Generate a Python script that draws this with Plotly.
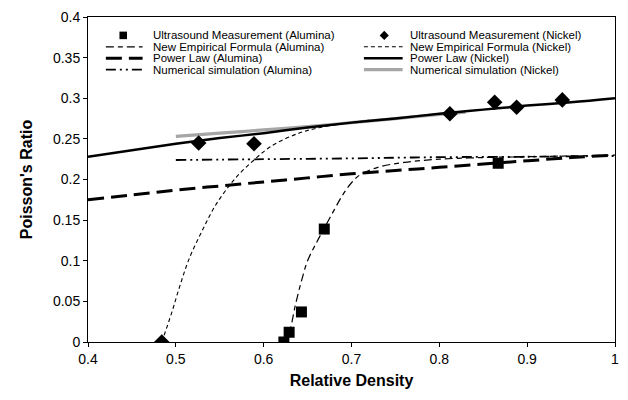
import plotly.graph_objects as go

# Ultrasound measurements
alumina_meas_x = [0.623, 0.629, 0.643, 0.669, 0.867]
alumina_meas_y = [0.0, 0.012, 0.037, 0.139, 0.220]
nickel_meas_x = [0.484, 0.526, 0.589, 0.812, 0.863, 0.888, 0.940]
nickel_meas_y = [0.0, 0.245, 0.244, 0.281, 0.295, 0.289, 0.298]

# New empirical formula curves
emp_alumina_x = [0.624, 0.630, 0.636, 0.643, 0.650, 0.660, 0.669, 0.680, 0.690,
                 0.700, 0.710, 0.730, 0.760, 0.800, 0.850, 0.900, 0.950, 1.000]
emp_alumina_y = [0.0, 0.015, 0.045, 0.075, 0.100, 0.122, 0.140, 0.162, 0.181,
                 0.196, 0.206, 0.215, 0.221, 0.225, 0.227, 0.228, 0.229, 0.230]
emp_nickel_x = [0.484, 0.495, 0.504, 0.515, 0.530, 0.545, 0.562, 0.575, 0.589,
                0.602, 0.615, 0.640, 0.660, 0.680, 0.700, 0.720]
emp_nickel_y = [0.0, 0.035, 0.067, 0.102, 0.137, 0.168, 0.194, 0.210, 0.224,
                0.236, 0.245, 0.257, 0.263, 0.267, 0.270, 0.273]

# Power law curves
pow_x = [0.40, 0.45, 0.50, 0.55, 0.60, 0.65, 0.70, 0.75, 0.80, 0.85, 0.90, 0.95, 1.00]
pow_alumina_y = [0.175, 0.181, 0.187, 0.192, 0.197, 0.202, 0.207, 0.211, 0.215,
                 0.219, 0.223, 0.227, 0.230]
pow_nickel_y = [0.228, 0.236, 0.244, 0.251, 0.257, 0.264, 0.270, 0.275, 0.281,
                0.286, 0.291, 0.295, 0.300]

# Numerical simulation curves
num_alumina_x = [0.50, 0.60, 0.70, 0.80, 0.90, 1.00]
num_alumina_y = [0.224, 0.225, 0.226, 0.2275, 0.228, 0.229]
num_nickel_x = [0.50, 0.55, 0.60, 0.65, 0.70, 0.75, 0.80, 0.83]
num_nickel_y = [0.253, 0.257, 0.261, 0.265, 0.270, 0.275, 0.280, 0.283]

legend_labels = [
    ("Ultrasound Measurement (Alumina)", "Ultrasound Measurement (Nickel)"),
    ("New Empirical Formula (Alumina)", "New Empirical Formula (Nickel)"),
    ("Power Law (Alumina)", "Power Law (Nickel)"),
    ("Numerical simulation (Alumina)", "Numerical simulation (Nickel)"),
]

FONT = "Arial, Liberation Sans, sans-serif"
W, H = 628, 400
ML, MR, MT, MB = 88, 9, 15, 58

# Line styles shared by curves and legend samples
STY = {
    "emp_al": dict(color="black", width=1.2, dash="8px,4px,5px,4px"),
    "emp_ni": dict(color="black", width=1.1, dash="4px,3px"),
    "pow_al": dict(color="black", width=3, dash="16px,7px"),
    "pow_ni": dict(color="black", width=2.5),
    "num_al": dict(color="black", width=1.8, dash="10px,4px,2px,4px,2px,4px"),
    "num_ni": dict(color="#a6a6a6", width=3.2),
}

fig = go.Figure()


def curve(x, y, key, name):
    fig.add_trace(go.Scatter(x=x, y=y, mode="lines", name=name, line=STY[key],
                             line_shape="spline", showlegend=False))


curve(num_nickel_x, num_nickel_y, "num_ni", legend_labels[3][1])
curve(pow_x, pow_alumina_y, "pow_al", legend_labels[2][0])
curve(pow_x, pow_nickel_y, "pow_ni", legend_labels[2][1])
curve(num_alumina_x, num_alumina_y, "num_al", legend_labels[3][0])
curve(emp_alumina_x, emp_alumina_y, "emp_al", legend_labels[1][0])
curve(emp_nickel_x, emp_nickel_y, "emp_ni", legend_labels[1][1])

fig.add_trace(go.Scatter(x=alumina_meas_x, y=alumina_meas_y, mode="markers",
                         name=legend_labels[0][0], showlegend=False,
                         marker=dict(symbol="square", size=11, color="black")))
fig.add_trace(go.Scatter(x=nickel_meas_x, y=nickel_meas_y, mode="markers",
                         name=legend_labels[0][1], showlegend=False,
                         marker=dict(symbol="diamond", size=12, color="black")))

# Hand-built two-column legend, placed in paper units from pixel offsets
pw, ph = W - ML - MR, H - MT - MB


def px(x):
    return (x - ML) / pw


def py(y):
    return (H - MB - y) / ph


rows = [33.5, 45, 56.5, 68]
cols = [
    dict(sym_x=123.5, line0=106, line1=143, text_x=151,
         keys=[None, "emp_al", "pow_al", "num_al"], marker="square"),
    dict(sym_x=386.5, line0=366, line1=405, text_x=410.5,
         keys=[None, "emp_ni", "pow_ni", "num_ni"], marker="diamond"),
]
shapes = []
annotations = []
for ci, col in enumerate(cols):
    for ri, ry in enumerate(rows):
        key = col["keys"][ri]
        if key is None:
            s = 3.8
            cx, cy = col["sym_x"], ry
            if col["marker"] == "square":
                shapes.append(dict(type="rect", xref="paper", yref="paper",
                                   x0=px(cx - s), x1=px(cx + s),
                                   y0=py(cy + s), y1=py(cy - s),
                                   fillcolor="black", line=dict(width=0)))
            else:
                d = 4.6
                path = (f"M {px(cx)} {py(cy - d)} L {px(cx + d)} {py(cy)} "
                        f"L {px(cx)} {py(cy + d)} L {px(cx - d)} {py(cy)} Z")
                shapes.append(dict(type="path", xref="paper", yref="paper",
                                   path=path, fillcolor="black", line=dict(width=0)))
        else:
            st = STY[key]
            shapes.append(dict(type="line", xref="paper", yref="paper",
                               x0=px(col["line0"]), x1=px(col["line1"]),
                               y0=py(ry), y1=py(ry),
                               line=dict(color=st["color"], width=st["width"],
                                         dash=st.get("dash", "solid"))))
        annotations.append(dict(text=legend_labels[ri][ci], xref="paper", yref="paper",
                                x=px(col["text_x"]), y=py(ry), xanchor="left",
                                yanchor="middle", showarrow=False,
                                font=dict(family=FONT, size=11.5, color="black")))

axis_common = dict(showline=True, linecolor="black", linewidth=1, mirror=True,
                   ticks="outside", ticklen=4, tickcolor="black", showgrid=False,
                   zeroline=False, tickfont=dict(family=FONT, size=14, color="black"))

fig.update_layout(
    width=W, height=H,
    margin=dict(l=ML, r=MR, t=MT, b=MB),
    paper_bgcolor="white", plot_bgcolor="white",
    showlegend=False,
    shapes=shapes,
    annotations=annotations,
    xaxis=dict(range=[0.4, 1.0], dtick=0.1, tick0=0.4,
               title=dict(text="<b>Relative Density</b>", standoff=9,
                          font=dict(family=FONT, size=16, color="black")),
               **axis_common),
    yaxis=dict(range=[0, 0.4], dtick=0.05, tick0=0,
               title=dict(text="<b>Poisson's Ratio</b>", standoff=16,
                          font=dict(family=FONT, size=16, color="black")),
               **axis_common),
)

fig.write_html("out.html")
